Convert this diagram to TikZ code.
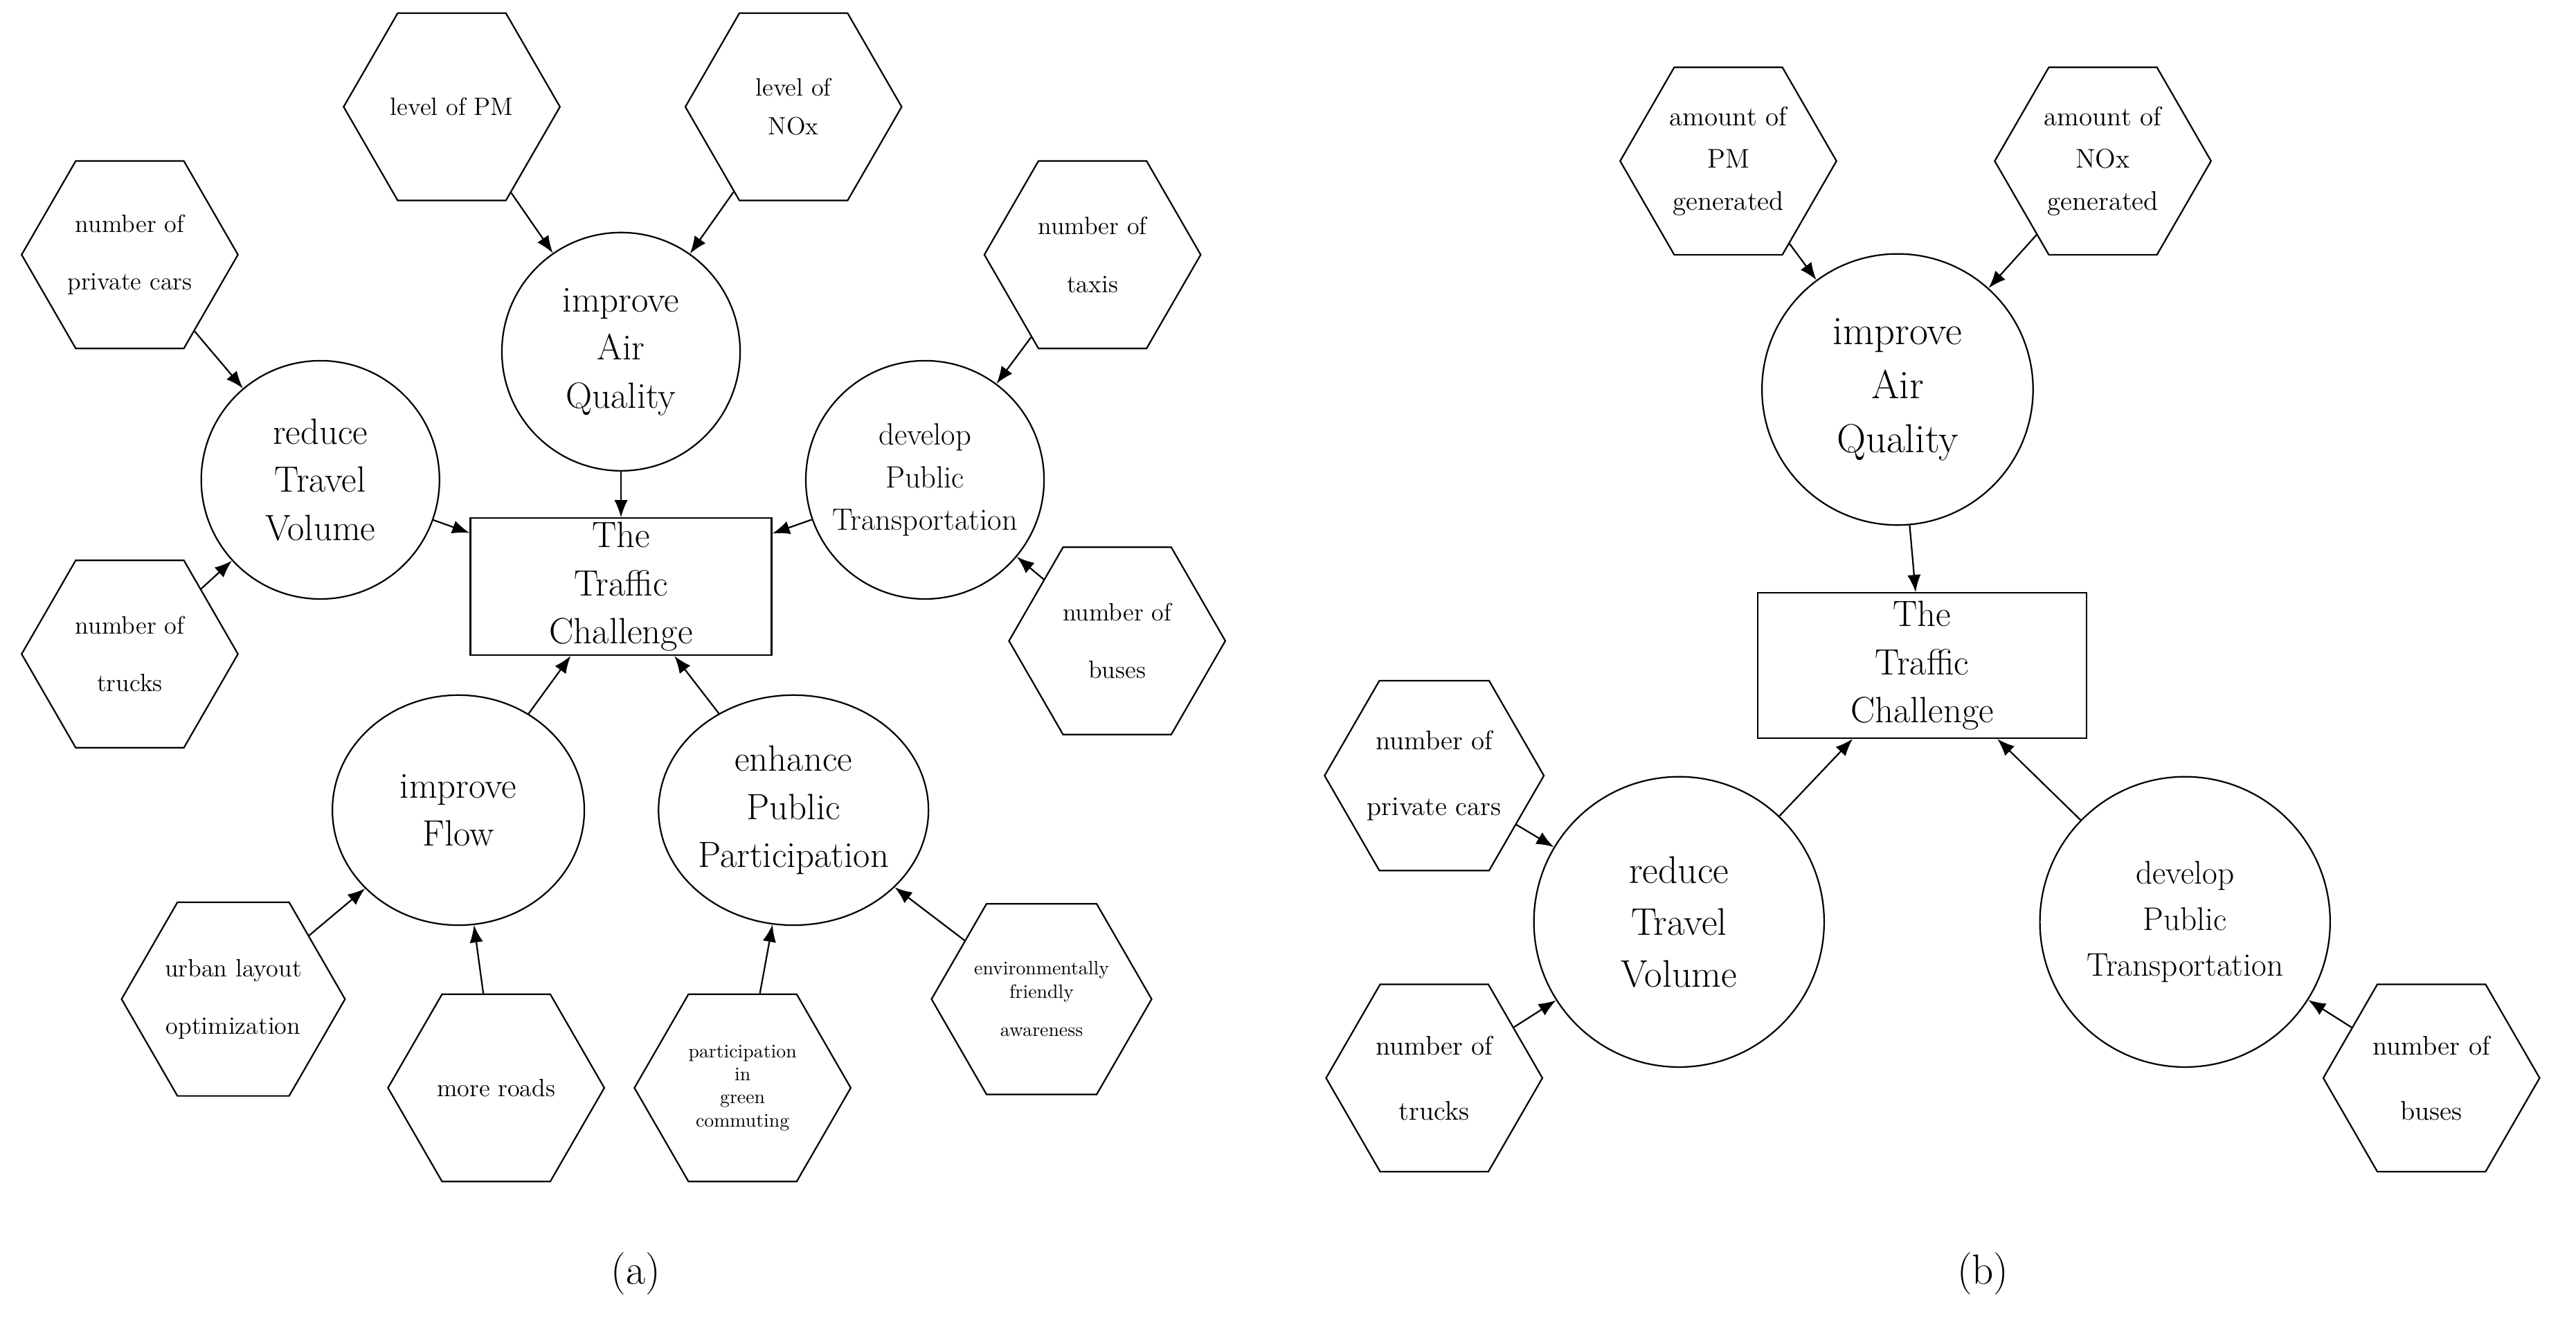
\documentclass[tikz,border=0pt]{standalone}
\usetikzlibrary{shapes.geometric,arrows.meta}

\tikzset{
	goal/.style={draw,thick,circle,inner sep=0pt,minimum size=#1,align=center,font=\fontsize{19}{25}\selectfont},
	goal/.default=4.35cm,
	crit/.style={draw,thick,regular polygon,regular polygon sides=6,inner sep=0pt,minimum size=3.95cm,align=center,font=\fontsize{13}{30}\selectfont},
	task/.style={draw,thick,rectangle,minimum width=5.5cm,minimum height=2.5cm,inner sep=0pt,align=center,font=\fontsize{19}{25}\selectfont},
	link/.style={-{Latex[length=9pt,width=7pt]},thick},
}

\begin{document}
\begin{tikzpicture}[x=0.03cm,y=-0.03cm]
	\useasboundingbox (0,0) rectangle (1568,811);
	% (a)
	\node[task] (ta) at (378,357) {The\\Traffic\\Challenge};
	\node[goal] (aqa) at (378,214) {improve\\Air\\Quality};
	\node[goal] (tva) at (195,292) {reduce\\Travel\\Volume};
	\node[goal,font=\fontsize{16}{22}\selectfont] (pta) at (563,292) {develop\\Public\\Transportation};
	\node[goal,ellipse,minimum width=4.6cm,minimum height=4.2cm] (fl) at (279,493) {improve\\Flow};
	\node[goal,ellipse,minimum width=4.45cm,minimum height=4.2cm] (pp) at (483,493) {enhance\\Public\\Participation};
	\node[crit] (pma) at (275,65) {level of PM};
	\node[crit,font=\fontsize{13}{20}\selectfont] (noa) at (483,65) {level of\\NOx};
	\node[crit] (pca) at (79,155) {number of\\private cars};
	\node[crit] (tra) at (79,398) {number of\\trucks};
	\node[crit] (tx) at (665,155) {number of\\taxis};
	\node[crit] (bua) at (680,390) {number of\\buses};
	\node[crit] (ul) at (142,608) {urban layout\\optimization};
	\node[crit] (mr) at (302,662) {more roads};
	\node[crit,font=\fontsize{10}{12}\selectfont] (gc) at (452,662) {participation\\in\\green\\commuting};
	\node[crit,font=\fontsize{10}{12}\selectfont] (ef) at (634,608) {environmentally\\friendly\\[8pt]awareness};
	\draw[link] (pma) -- (aqa);
	\draw[link] (noa) -- (aqa);
	\draw[link] (pca) -- (tva);
	\draw[link] (tra) -- (tva);
	\draw[link] (tx) -- (pta);
	\draw[link] (bua) -- (pta);
	\draw[link] (ul) -- (fl);
	\draw[link] (mr) -- (fl);
	\draw[link] (gc) -- (pp);
	\draw[link] (ef) -- (pp);
	\draw[link] (aqa) -- (ta);
	\draw[link] (tva) -- (ta);
	\draw[link] (pta) -- (ta);
	\draw[link] (fl) -- (ta);
	\draw[link] (pp) -- (ta);
	\node[font=\fontsize{22}{26}\selectfont] (la) at (387,775) {(a)};
	% (b)
	\node[task,minimum width=6cm,minimum height=2.65cm] (tb) at (1170,405) {The\\Traffic\\Challenge};
	\node[goal=4.95cm,font=\fontsize{21}{28}\selectfont] (aqb) at (1155,237) {improve\\Air\\Quality};
	\node[goal=5.3cm,font=\fontsize{20}{27}\selectfont] (tvb) at (1022,561) {reduce\\Travel\\Volume};
	\node[goal=5.3cm,font=\fontsize{17}{24}\selectfont] (ptb) at (1330,561) {develop\\Public\\Transportation};
	\node[crit,font=\fontsize{14}{22}\selectfont] (pmb) at (1052,98) {amount of\\PM\\generated};
	\node[crit,font=\fontsize{14}{22}\selectfont] (nob) at (1280,98) {amount of\\NOx\\generated};
	\node[crit,font=\fontsize{14}{34}\selectfont] (pcb) at (873,472) {number of\\private cars};
	\node[crit,font=\fontsize{14}{34}\selectfont] (trb) at (873,656) {number of\\trucks};
	\node[crit,font=\fontsize{14}{34}\selectfont] (bub) at (1480,656) {number of\\buses};
	\draw[link] (pmb) -- (aqb);
	\draw[link] (nob) -- (aqb);
	\draw[link] (pcb) -- (tvb);
	\draw[link] (trb) -- (tvb);
	\draw[link] (bub) -- (ptb);
	\draw[link] (aqb) -- (tb);
	\draw[link] (tvb) -- (tb);
	\draw[link] (ptb) -- (tb);
	\node[font=\fontsize{22}{26}\selectfont] (lb) at (1207,775) {(b)};
\end{tikzpicture}
\end{document}
